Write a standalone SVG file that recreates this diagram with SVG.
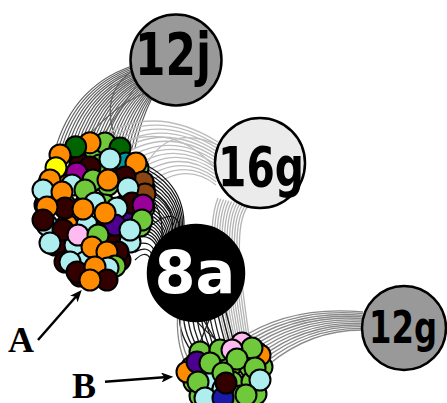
<svg xmlns="http://www.w3.org/2000/svg" width="447" height="403" viewBox="0 0 447 403">
<style>
  .e{fill:none;stroke-width:1.3}
  .b1{stroke:#606060;stroke-width:1.2}
  .b2{stroke:#bcbcbc}
  .b3{stroke:#111;stroke-width:1.2}
  .b4{stroke:#b4b4b4}
  .b5{stroke:#1c1c1c}
  .b6{stroke:#8a8a8a}
  .cl circle{stroke:#000;stroke-width:2}
  .o{fill:#ff8c00}.c{fill:#aeeeee}.m{fill:#330000}.g{fill:#6fc93a}
  .dg{fill:#006400}.t{fill:#009999}.p{fill:#990099}.i{fill:#4b0090}
  .br{fill:#8b4513}.y{fill:#ffff00}.pk{fill:#ffbbf0}.bl{fill:#1a1aa8}
  .node circle{stroke:#000;stroke-width:2.5}
  .nl{font-family:"DejaVu Sans Condensed","DejaVu Sans",sans-serif;font-weight:bold;text-anchor:middle}
  .tag{font-family:"Liberation Serif","DejaVu Serif",serif;font-weight:bold;font-size:36px}
  .arr{stroke:#000;stroke-width:2.5;fill:none;marker-end:url(#ah)}
</style>
<defs>
  <marker id="ah" viewBox="0 0 12 10" refX="6" refY="5" markerWidth="12" markerHeight="10" markerUnits="userSpaceOnUse" orient="auto">
    <path d="M0,0 L12,5 L0,10 L3,5 z" fill="#000"/>
  </marker>
</defs>

<g id="connectors">
  <!-- cluster A to 12j -->
  <g class="e b1">
    <path d="M52,162 Q68,88 132,66"/>
    <path d="M58.4,160.9 Q73.5,90.6 133.5,68.5"/>
    <path d="M64.8,159.8 Q79.1,93.2 135.1,70.9"/>
    <path d="M71.2,158.8 Q84.6,95.8 136.6,73.4"/>
    <path d="M77.5,157.7 Q90.2,98.5 138.2,75.9"/>
    <path d="M83.9,156.6 Q95.7,101.1 139.7,78.3"/>
    <path d="M90.3,155.5 Q101.2,103.7 141.2,80.8"/>
    <path d="M96.7,154.5 Q106.8,106.3 142.8,83.2"/>
    <path d="M103.1,153.4 Q112.3,108.9 144.3,85.7"/>
    <path d="M109.5,152.3 Q117.8,111.5 145.8,88.1"/>
    <path d="M115.8,151.2 Q123.4,114.1 147.4,90.6"/>
    <path d="M122.2,150.2 Q128.9,116.8 148.9,93.1"/>
    <path d="M128.6,149.1 Q134.5,119.4 150.5,95.5"/>
    <path d="M135,148 Q140,122 152,98"/>
    <path d="M55.2,161.5 Q70.8,89.3 132.8,67.3"/>
    <path d="M61.6,160.4 Q76.3,91.9 134.3,69.7"/>
    <path d="M68,159.3 Q81.9,94.5 135.9,72.2"/>
    <path d="M74.4,158.3 Q87.4,97.2 137.4,74.7"/>
    <path d="M80.7,157.2 Q93,99.8 139,77.1"/>
    <path d="M87.1,156.1 Q98.5,102.4 140.5,79.6"/>
    <path d="M93.5,155 Q104,105 142,82"/>
    <path d="M99.9,154 Q109.6,107.6 143.6,84.5"/>
    <path d="M106.3,152.9 Q115.1,110.2 145.1,86.9"/>
    <path d="M112.7,151.8 Q120.6,112.8 146.6,89.4"/>
    <path d="M119,150.7 Q126.2,115.5 148.2,91.9"/>
    <path d="M125.4,149.7 Q131.7,118.1 149.7,94.3"/>
    <path d="M131.8,148.6 Q137.3,120.7 151.3,96.8"/>
    <path d="M70,158 Q110,105 148,92"/>
    <path d="M120,150 Q95,95 134,70"/>
    <path d="M90,155 Q120,110 140,80"/>
  </g>
  <!-- cluster A to 16g -->
  <g class="e b2">
    <path d="M95,142 Q150,100 218,142"/>
    <path d="M99.1,145.7 Q152.7,104.6 217.8,145.3"/>
    <path d="M103.2,149.4 Q155.4,109.2 217.7,148.6"/>
    <path d="M107.2,153.1 Q158.1,113.8 217.5,151.9"/>
    <path d="M111.3,156.8 Q160.8,118.5 217.4,155.2"/>
    <path d="M115.4,160.5 Q163.5,123.1 217.2,158.5"/>
    <path d="M119.5,164.2 Q166.2,127.7 217.1,161.8"/>
    <path d="M123.5,167.8 Q168.8,132.3 216.9,165.2"/>
    <path d="M127.6,171.5 Q171.5,136.9 216.8,168.5"/>
    <path d="M131.7,175.2 Q174.2,141.5 216.6,171.8"/>
    <path d="M135.8,178.9 Q176.9,146.1 216.5,175.1"/>
    <path d="M139.8,182.6 Q179.6,150.8 216.3,178.4"/>
    <path d="M143.9,186.3 Q182.3,155.4 216.2,181.7"/>
    <path d="M148,190 Q185,160 216,185"/>
    <path d="M105,150 Q170,115 217,170"/>
    <path d="M140,180 Q160,120 218,145"/>
  </g>
  <!-- cluster A to 8a -->
  <g class="e b3">
    <path d="M135,160 Q185,180 184,227"/>
    <path d="M135,167.7 Q181.9,185.4 181.4,229.4"/>
    <path d="M135,175.4 Q178.8,190.8 178.8,231.8"/>
    <path d="M135,183.1 Q175.8,196.2 176.2,234.2"/>
    <path d="M135,190.8 Q172.7,201.5 173.5,236.5"/>
    <path d="M135,198.5 Q169.6,206.9 170.9,238.9"/>
    <path d="M135,206.2 Q166.5,212.3 168.3,241.3"/>
    <path d="M135,213.8 Q163.5,217.7 165.7,243.7"/>
    <path d="M135,221.5 Q160.4,223.1 163.1,246.1"/>
    <path d="M135,229.2 Q157.3,228.5 160.5,248.5"/>
    <path d="M135,236.9 Q154.2,233.8 157.8,250.8"/>
    <path d="M135,244.6 Q151.2,239.2 155.2,253.2"/>
    <path d="M135,252.3 Q148.1,244.6 152.6,255.6"/>
    <path d="M135,260 Q145,250 150,258"/>
    <path d="M135,163.9 Q183.5,182.7 182.7,228.2"/>
    <path d="M135,171.6 Q180.4,188.1 180.1,230.6"/>
    <path d="M135,179.3 Q177.3,193.5 177.5,233"/>
    <path d="M135,187 Q174.3,198.9 174.9,235.4"/>
    <path d="M135,194.7 Q171.2,204.2 172.2,237.7"/>
    <path d="M135,202.4 Q168.1,209.6 169.6,240.1"/>
    <path d="M135,210 Q165,215 167,242.5"/>
    <path d="M135,217.7 Q162,220.4 164.4,244.9"/>
    <path d="M135,225.4 Q158.9,225.8 161.8,247.3"/>
    <path d="M135,233 Q155.8,231.2 159.2,249.7"/>
    <path d="M135,170 Q170,215 160,246"/>
    <path d="M135,240 Q175,200 180,228"/>
    <path d="M135,185 Q182,200 170,240"/>
  </g>
  <!-- 16g to cluster B -->
  <g class="e b4">
    <path d="M218,198 C205,230 215,300 228,345"/>
    <path d="M220.7,198.7 C207.3,230 217.7,300 230,345"/>
    <path d="M223.5,199.5 C209.5,230 220.5,300 232,345"/>
    <path d="M226.2,200.2 C211.8,230 223.2,300 234,345"/>
    <path d="M228.9,200.9 C214.1,230 225.9,300 236,345"/>
    <path d="M231.6,201.6 C216.4,230 228.6,300 238,345"/>
    <path d="M234.4,202.4 C218.6,230 231.4,300 240,345"/>
    <path d="M237.1,203.1 C220.9,230 234.1,300 242,345"/>
    <path d="M239.8,203.8 C223.2,230 236.8,300 244,345"/>
    <path d="M242.5,204.5 C225.5,230 239.5,300 246,345"/>
    <path d="M245.3,205.3 C227.7,230 242.3,300 248,345"/>
    <path d="M248,206 C230,230 245,300 250,345"/>
  </g>
  <!-- 8a to cluster B -->
  <g class="e b5">
    <path d="M180,305 Q176,330 192,352"/>
    <path d="M184,305 Q181,330 196,352"/>
    <path d="M188,305 Q186,330 200,352"/>
    <path d="M192,305 Q191,330 204,352"/>
    <path d="M196,305 Q196,330 208,352"/>
    <path d="M200,305 Q201,330 212,352"/>
    <path d="M204,305 Q206,330 216,352"/>
    <path d="M208,305 Q211,330 220,352"/>
    <path d="M212,305 Q216,330 224,352"/>
    <path d="M216,305 Q221,330 228,352"/>
    <path d="M220,305 Q226,330 232,352"/>
    <path d="M224,305 Q231,330 236,352"/>
    <path d="M185,305 Q200,330 230,350"/>
    <path d="M215,305 Q205,330 195,355"/>
    <path d="M195,305 Q210,332 222,350"/>
  </g>
  <g class="e b6">
    <path d="M178,310 Q175,340 186,365"/>
    <path d="M181,310 Q178,342 190,362"/>
  </g>
  <!-- cluster B to 12g -->
  <g class="e b6">
    <path d="M238,340 Q290,305 363,312"/>
    <path d="M240.7,342.3 Q291.8,307.3 363,313.6"/>
    <path d="M243.5,344.5 Q293.6,309.5 362.8,315.3"/>
    <path d="M246.2,346.8 Q295.5,311.8 362.7,316.9"/>
    <path d="M248.9,349.1 Q297.3,314.1 362.6,318.5"/>
    <path d="M251.6,351.4 Q299.1,316.4 362.5,320.2"/>
    <path d="M254.4,353.6 Q300.9,318.6 362.5,321.8"/>
    <path d="M257.1,355.9 Q302.7,320.9 362.4,323.5"/>
    <path d="M259.8,358.2 Q304.5,323.2 362.3,325.1"/>
    <path d="M262.5,360.5 Q306.4,325.5 362.1,326.7"/>
    <path d="M265.3,362.7 Q308.2,327.7 362,328.4"/>
    <path d="M268,365 Q310,330 362,330"/>
  </g>
</g>

<g id="cluster-A" class="cl">
  <!-- inner fill layer -->
  <circle cx="75" cy="150" r="10.5" class="m"/>
  <circle cx="95" cy="150" r="10.5" class="g"/>
  <circle cx="115" cy="150" r="10.5" class="o"/>
  <circle cx="60" cy="165" r="10.5" class="c"/>
  <circle cx="80" cy="165" r="10.5" class="m"/>
  <circle cx="100" cy="165" r="10.5" class="g"/>
  <circle cx="120" cy="165" r="10.5" class="m"/>
  <circle cx="138" cy="168" r="10.5" class="g"/>
  <circle cx="48" cy="185" r="10.5" class="c"/>
  <circle cx="68" cy="185" r="10.5" class="o"/>
  <circle cx="88" cy="185" r="10.5" class="m"/>
  <circle cx="108" cy="185" r="10.5" class="g"/>
  <circle cx="128" cy="185" r="10.5" class="c"/>
  <circle cx="144" cy="188" r="10.5" class="m"/>
  <circle cx="45" cy="205" r="10.5" class="m"/>
  <circle cx="65" cy="205" r="10.5" class="c"/>
  <circle cx="85" cy="205" r="10.5" class="m"/>
  <circle cx="105" cy="205" r="10.5" class="g"/>
  <circle cx="125" cy="205" r="10.5" class="m"/>
  <circle cx="144" cy="208" r="10.5" class="g"/>
  <circle cx="47" cy="225" r="10.5" class="c"/>
  <circle cx="67" cy="225" r="10.5" class="o"/>
  <circle cx="87" cy="225" r="10.5" class="c"/>
  <circle cx="107" cy="225" r="10.5" class="m"/>
  <circle cx="127" cy="222" r="10.5" class="i"/>
  <circle cx="140" cy="226" r="10.5" class="g"/>
  <circle cx="55" cy="245" r="10.5" class="m"/>
  <circle cx="75" cy="245" r="10.5" class="c"/>
  <circle cx="95" cy="245" r="10.5" class="g"/>
  <circle cx="115" cy="245" r="10.5" class="m"/>
  <circle cx="130" cy="242" r="10.5" class="c"/>
  <circle cx="65" cy="262" r="10.5" class="m"/>
  <circle cx="85" cy="262" r="10.5" class="c"/>
  <circle cx="105" cy="262" r="10.5" class="g"/>
  <circle cx="120" cy="260" r="10.5" class="m"/>
  <circle cx="80" cy="276" r="10.5" class="m"/>
  <circle cx="100" cy="276" r="10.5" class="c"/>
  <!-- outer layer -->
  <circle cx="105" cy="143" r="10.5" class="g"/>
  <circle cx="120" cy="148" r="10.5" class="dg"/>
  <circle cx="90" cy="142.7" r="10.5" class="o"/>
  <circle cx="75.7" cy="146.7" r="10.5" class="dg"/>
  <circle cx="60" cy="155" r="10.5" class="o"/>
  <circle cx="126" cy="163" r="10.5" class="t"/>
  <circle cx="136" cy="163" r="10.5" class="o"/>
  <circle cx="90" cy="167" r="10.5" class="m"/>
  <circle cx="76.7" cy="173" r="10.5" class="p"/>
  <circle cx="56" cy="167.7" r="10.5" class="y"/>
  <circle cx="110" cy="159" r="10.5" class="c"/>
  <circle cx="143" cy="182" r="10.5" class="br"/>
  <circle cx="125" cy="177" r="10.5" class="m"/>
  <circle cx="93" cy="180" r="10.5" class="g"/>
  <circle cx="108" cy="180" r="10.5" class="o"/>
  <circle cx="50" cy="180" r="10.5" class="o"/>
  <circle cx="72" cy="185" r="10.5" class="c"/>
  <circle cx="145" cy="194" r="10.5" class="br"/>
  <circle cx="128" cy="188" r="10.5" class="c"/>
  <circle cx="43" cy="190" r="10.5" class="c"/>
  <circle cx="85" cy="190" r="10.5" class="g"/>
  <circle cx="62" cy="192" r="10.5" class="o"/>
  <circle cx="132" cy="203" r="10.5" class="m"/>
  <circle cx="143" cy="205" r="10.5" class="p"/>
  <circle cx="95" cy="203" r="10.5" class="c"/>
  <circle cx="65" cy="208" r="10.5" class="m"/>
  <circle cx="47" cy="207" r="10.5" class="o"/>
  <circle cx="83" cy="209" r="10.5" class="o"/>
  <circle cx="117" cy="208" r="10.5" class="c"/>
  <circle cx="142" cy="220" r="10.5" class="g"/>
  <circle cx="43" cy="220" r="10.5" class="m"/>
  <circle cx="115" cy="225" r="10.5" class="i"/>
  <circle cx="105" cy="213" r="10.5" class="o"/>
  <circle cx="130" cy="230" r="10.5" class="c"/>
  <circle cx="63" cy="230" r="10.5" class="m"/>
  <circle cx="78" cy="235" r="10.5" class="pk"/>
  <circle cx="98" cy="235" r="10.5" class="g"/>
  <circle cx="50" cy="243" r="10.5" class="c"/>
  <circle cx="118" cy="252" r="10.5" class="m"/>
  <circle cx="92" cy="247" r="10.5" class="o"/>
  <circle cx="107" cy="252" r="10.5" class="o"/>
  <circle cx="70" cy="262" r="10.5" class="c"/>
  <circle cx="115" cy="266" r="10.5" class="g"/>
  <circle cx="77" cy="272" r="10.5" class="m"/>
  <circle cx="108" cy="268" r="10.5" class="c"/>
  <circle cx="95" cy="267" r="10.5" class="o"/>
  <circle cx="107" cy="280" r="10.5" class="m"/>
  <circle cx="90" cy="280" r="10.5" class="o"/>
</g>

<g id="cluster-B" class="cl">
  <!-- inner fill layer -->
  <circle cx="200" cy="352" r="10.5" class="g"/>
  <circle cx="220" cy="352" r="10.5" class="i"/>
  <circle cx="240" cy="352" r="10.5" class="g"/>
  <circle cx="256" cy="352" r="10.5" class="g"/>
  <circle cx="192" cy="367" r="10.5" class="g"/>
  <circle cx="210" cy="367" r="10.5" class="c"/>
  <circle cx="230" cy="367" r="10.5" class="g"/>
  <circle cx="250" cy="367" r="10.5" class="g"/>
  <circle cx="262" cy="367" r="10.5" class="g"/>
  <circle cx="194" cy="382" r="10.5" class="g"/>
  <circle cx="212" cy="382" r="10.5" class="c"/>
  <circle cx="232" cy="382" r="10.5" class="g"/>
  <circle cx="252" cy="382" r="10.5" class="g"/>
  <circle cx="200" cy="396" r="10.5" class="g"/>
  <circle cx="220" cy="396" r="10.5" class="c"/>
  <circle cx="240" cy="396" r="10.5" class="g"/>
  <circle cx="256" cy="394" r="10.5" class="g"/>
  <!-- outer layer -->
  <circle cx="220" cy="350" r="10.5" class="g"/>
  <circle cx="260" cy="355" r="10.5" class="o"/>
  <circle cx="242" cy="343" r="10.5" class="pk"/>
  <circle cx="252" cy="348" r="10.5" class="g"/>
  <circle cx="232" cy="350" r="10.5" class="pk"/>
  <circle cx="237" cy="359" r="10.5" class="g"/>
  <circle cx="187" cy="372" r="10.5" class="o"/>
  <circle cx="197" cy="362" r="10.5" class="i"/>
  <circle cx="210" cy="363" r="10.5" class="g"/>
  <circle cx="255" cy="368" r="10.5" class="g"/>
  <circle cx="223" cy="373" r="10.5" class="g"/>
  <circle cx="260" cy="380" r="10.5" class="c"/>
  <circle cx="198" cy="382" r="10.5" class="g"/>
  <circle cx="223" cy="389" r="10.5" class="c"/>
  <circle cx="205" cy="398" r="10.5" class="c"/>
  <circle cx="223" cy="398" r="10.5" class="bl"/>
  <circle cx="226" cy="383" r="10.5" class="m"/>
  <circle cx="246" cy="395" r="10.5" class="g"/>
</g>

<g id="node-12j" class="node">
  <circle cx="176" cy="60" r="45.5" fill="#999999"/>
  <text class="nl" x="173" y="75" font-size="58" textLength="76" lengthAdjust="spacingAndGlyphs" fill="#000">12j</text>
</g>
<g id="node-16g" class="node">
  <circle cx="260" cy="163" r="45" fill="#ebebeb"/>
  <text class="nl" x="261" y="186" font-size="56" textLength="86" lengthAdjust="spacingAndGlyphs" fill="#000">16g</text>
</g>
<g id="node-8a" class="node">
  <circle cx="196" cy="273" r="48" fill="#000"/>
  <text x="195" y="293" font-family="'DejaVu Sans',sans-serif" font-weight="bold" font-size="59" text-anchor="middle" fill="#fff">8a</text>
</g>
<g id="node-12g" class="node">
  <circle cx="404" cy="328" r="42" fill="#999999"/>
  <text class="nl" x="403" y="343" font-size="45" textLength="68" lengthAdjust="spacingAndGlyphs" fill="#000">12g</text>
</g>

<g id="label-A">
  <path class="arr" d="M38,340 L77.8,294.5"/>
  <text class="tag" x="8" y="352">A</text>
</g>
<g id="label-B">
  <path class="arr" d="M105,381.7 L167.3,377.1"/>
  <text class="tag" x="72" y="398">B</text>
</g>
</svg>
